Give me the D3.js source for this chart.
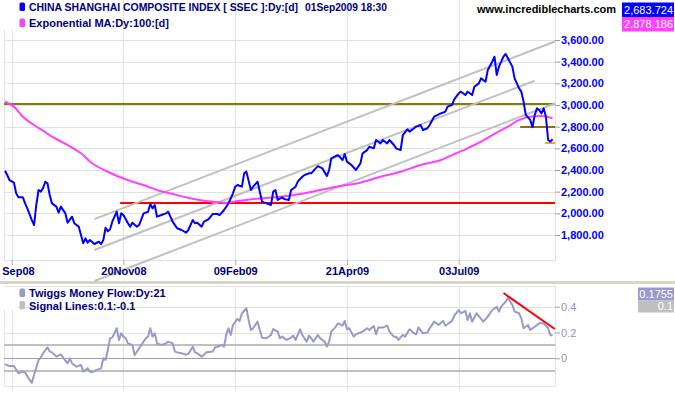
<!DOCTYPE html>
<html>
<head>
<meta charset="utf-8">
<script src="https://cdn.jsdelivr.net/npm/d3@7"></script>
<style>
  body { margin: 0; background: #fff; }
  svg { display: block; }
  text { font-family: "Liberation Sans", Arial, sans-serif; }
</style>
</head>
<body>
<svg id="chart"></svg>
<script>
// ---- data (x = trading day index from late Aug 2008, 245 = 01Sep2009) ----
const priceData = [[0,2393],[1,2354],[2,2307],[4,2283],[5,2185],[6,2148],[8,2148],[9,2092],[10,2046],[12,1938],[13,1892],[14,2077],[15,2215],[16,2200],[17,2231],[18,2292],[19,2277],[20,2169],[21,2092],[23,2062],[24,2006],[25,2062],[27,2000],[28,1913],[30,1969],[31,1908],[33,1877],[34,1800],[35,1723],[36,1769],[37,1729],[38,1754],[40,1717],[42,1738],[43,1717],[44,1754],[45,1867],[46,1836],[47,1851],[48,1923],[50,2015],[51,1908],[52,2000],[53,1985],[55,1908],[56,1877],[57,1913],[59,1877],[60,1892],[62,2000],[64,2015],[65,2086],[66,2046],[67,2077],[68,1969],[70,1985],[72,2000],[73,2015],[75,1923],[77,1862],[79,1846],[81,1821],[82,1846],[84,1938],[85,1908],[86,1913],[88,1877],[89,1923],[91,1944],[93,1994],[95,1994],[96,1984],[98,2031],[100,2092],[102,2185],[103,2246],[104,2262],[106,2246],[107,2369],[108,2385],[110,2215],[111,2246],[113,2292],[114,2200],[115,2107],[117,2092],[119,2077],[120,2200],[121,2215],[122,2123],[124,2148],[125,2131],[127,2123],[128,2215],[130,2246],[131,2292],[133,2338],[134,2354],[136,2369],[137,2369],[139,2415],[140,2436],[142,2415],[144,2344],[145,2400],[146,2508],[148,2529],[149,2538],[151,2492],[152,2547],[153,2477],[155,2446],[157,2400],[159,2461],[160,2554],[162,2584],[163,2615],[165,2600],[166,2677],[168,2646],[169,2677],[171,2646],[172,2677],[174,2631],[175,2600],[177,2584],[178,2723],[180,2775],[181,2754],[183,2785],[184,2800],[186,2815],[187,2769],[189,2785],[190,2815],[192,2892],[195,2923],[197,2938],[198,2985],[200,3000],[201,3052],[203,3108],[204,3123],[206,3092],[207,3123],[209,3092],[210,3169],[212,3200],[213,3246],[215,3215],[216,3323],[218,3400],[219,3446],[220,3277],[221,3354],[223,3446],[224,3471],[225,3431],[227,3354],[228,3246],[230,3154],[231,3123],[232,3031],[233,2908],[235,2862],[236,2794],[237,2908],[238,2969],[239,2954],[240,2923],[241,2969],[242,2892],[243,2677],[244,2662],[245,2684]];

const emaData = [[0,3030],[4,2985],[8,2892],[13,2815],[17,2763],[21,2708],[28,2631],[34,2554],[39,2462],[46,2384],[51,2338],[57,2292],[64,2246],[69,2209],[75,2178],[81,2148],[87,2123],[93,2107],[99,2098],[105,2116],[114,2138],[123,2153],[132,2178],[141,2215],[150,2252],[159,2283],[168,2338],[177,2384],[186,2446],[195,2492],[200,2538],[207,2600],[213,2661],[218,2723],[225,2800],[230,2862],[235,2892],[240,2898],[245,2878]];

const tmfData = [[0,-0.047],[2,-0.06],[4,-0.06],[6,-0.116],[8,-0.103],[9,-0.11],[10,-0.14],[12,-0.19],[13,-0.13],[15,-0.013],[16,0.005],[17,0.039],[19,0.085],[20,0.052],[21,0.046],[23,0.013],[25,0.031],[26,0.005],[28,-0.039],[29,0],[30,-0.039],[32,-0.065],[34,-0.052],[35,-0.103],[37,-0.078],[38,-0.103],[39,-0.108],[41,-0.09],[43,-0.078],[44,0],[45,-0.013],[46,0.064],[47,0.155],[48,0.16],[50,0.233],[51,0.142],[52,0.194],[53,0.168],[54,0.155],[55,0.116],[57,0.103],[58,0.026],[59,0.052],[60,0.077],[62,0.129],[63,0.155],[64,0.168],[65,0.233],[66,0.168],[67,0.194],[68,0.116],[70,0.103],[72,0.116],[73,0.129],[75,0.116],[76,0.052],[77,0.046],[79,0.039],[81,0.028],[82,0.035],[84,0.09],[85,0.046],[86,0.039],[88,0.013],[89,0.026],[90,0.046],[93,0.052],[94,0.085],[95,0.09],[97,0.103],[98,0.09],[99,0.186],[100,0.233],[101,0.181],[102,0.258],[104,0.305],[105,0.29],[106,0.349],[108,0.388],[109,0.297],[110,0.219],[111,0.233],[113,0.284],[114,0.219],[115,0.16],[117,0.155],[119,0.181],[120,0.227],[122,0.207],[123,0.155],[124,0.168],[126,0.142],[128,0.16],[129,0.176],[130,0.142],[131,0.181],[132,0.225],[133,0.181],[135,0.129],[136,0.176],[137,0.155],[138,0.129],[140,0.181],[141,0.155],[143,0.129],[144,0.09],[145,0.129],[146,0.207],[148,0.245],[149,0.271],[151,0.253],[152,0.29],[153,0.225],[154,0.233],[156,0.168],[157,0.186],[159,0.2],[160,0.207],[162,0.233],[163,0.219],[165,0.25],[166,0.186],[167,0.238],[169,0.238],[171,0.253],[172,0.207],[174,0.168],[175,0.168],[176,0.142],[178,0.181],[179,0.168],[181,0.225],[183,0.194],[184,0.186],[185,0.24],[187,0.194],[189,0.2],[190,0.233],[192,0.284],[194,0.258],[196,0.29],[197,0.253],[198,0.264],[200,0.29],[201,0.33],[203,0.374],[204,0.349],[206,0.367],[207,0.297],[208,0.349],[209,0.284],[211,0.349],[213,0.305],[214,0.284],[216,0.323],[217,0.349],[218,0.374],[220,0.4],[221,0.362],[222,0.4],[224,0.439],[225,0.47],[227,0.413],[228,0.362],[230,0.349],[231,0.31],[232,0.233],[234,0.258],[235,0.219],[237,0.245],[239,0.271],[241,0.271],[243,0.233],[244,0.181],[245,0.1755]];

// trend channel (gray) and horizontal support/resistance lines
const channelLines = [
  [[40, 1947], [246, 3586]],
  [[40, 1661], [237, 3224]],
  [[40, 1375], [246, 3014]]
];
const levelLines = [
  { from: -0.45, to: 246.1, value: 3010, color: "#808000" },
  { from: 51.5,  to: 246.1, value: 2098, color: "#ff0000" },
  { from: 230.5, to: 246.1, value: 2800, color: "#9c6a00" },
  { from: 241.6, to: 246.1, value: 2650, color: "#ffa020" }
];
const tmfTrend = [[223, 0.506], [246, 0.227]];
const signalLevels = [0.1, -0.1];

const dateTicks = [3, 53, 103, 153, 203];
const dateLabels = ["Sep08", "20Nov08", "09Feb09", "21Apr09", "03Jul09"];
const priceTicks = [1800, 2000, 2200, 2400, 2600, 2800, 3000, 3200, 3400, 3600];
const tmfTicks = [0, 0.2, 0.4];

const lastPrice = "2,683.724", lastEma = "2,878.186";
const lastTmf = "0.1755", lastSignal = "0.1";

// ---- layout ----
const width = 675, height = 395;
const plotL = 4, plotR = 555;
const mainBottom = 260, lowTop = 286, lowBottom = 386;
const gridColor = "#e2e2e2";

const svg = d3.select("#chart").attr("width", width).attr("height", height);

const x = d3.scaleLinear().domain([0, 245]).range([5, 552.6]);
const y = d3.scaleLinear().domain([1800, 3600]).range([235, 40]);
const y2 = d3.scaleLinear().domain([0, 0.4]).range([358.3, 306.7]);

// grid - main panel
svg.append("g").selectAll("line").data(priceTicks).enter().append("line")
  .attr("x1", plotL).attr("x2", plotR)
  .attr("y1", d => Math.round(y(d)) + 0.5).attr("y2", d => Math.round(y(d)) + 0.5)
  .attr("stroke", gridColor);
svg.append("g").selectAll("line").data(dateTicks).enter().append("line")
  .attr("x1", d => Math.round(x(d)) + 0.5).attr("x2", d => Math.round(x(d)) + 0.5)
  .attr("y1", 0).attr("y2", mainBottom)
  .attr("stroke", gridColor);

// grid - lower panel
svg.append("g").selectAll("line").data([0.2, 0.4]).enter().append("line")
  .attr("x1", plotL).attr("x2", plotR)
  .attr("y1", d => Math.round(y2(d)) + 0.5).attr("y2", d => Math.round(y2(d)) + 0.5)
  .attr("stroke", gridColor);
svg.append("g").selectAll("line").data(dateTicks).enter().append("line")
  .attr("x1", d => Math.round(x(d)) + 0.5).attr("x2", d => Math.round(x(d)) + 0.5)
  .attr("y1", lowTop).attr("y2", lowBottom + 4)
  .attr("stroke", gridColor);

// frames
const frame = svg.append("g").attr("stroke", gridColor).attr("fill", "none");
frame.append("path").attr("d", `M${plotL + 0.5},0V${mainBottom + 0.5}H${plotR + 0.5}V0`);
frame.append("path").attr("d", `M${plotL + 0.5},${lowTop + 0.5}V${lowBottom + 0.5}H${plotR + 0.5}V${lowTop + 0.5}Z`);

// legend backdrop at far left (covers the first grid lines like the original)
svg.append("rect").attr("x", 0).attr("y", 0).attr("width", 17).attr("height", 30).attr("fill", "#fff");
svg.append("rect").attr("x", 0).attr("y", lowTop + 1).attr("width", 17).attr("height", 23).attr("fill", "#fff");

// panel divider
svg.append("rect").attr("x", 0).attr("y", 281).attr("width", width).attr("height", 3).attr("fill", "#d8d4c6");

// horizontal levels
svg.append("g").selectAll("line").data(levelLines).enter().append("line")
  .attr("x1", d => x(d.from)).attr("x2", d => x(d.to))
  .attr("y1", d => Math.round(y(d.value))).attr("y2", d => Math.round(y(d.value)))
  .attr("stroke", d => d.color).attr("stroke-width", 2);

// channel
const line = d3.line().x(d => x(d[0])).y(d => y(d[1]));
svg.append("g").selectAll("path").data(channelLines).enter().append("path")
  .attr("d", line).attr("fill", "none").attr("stroke", "#c0c0c0").attr("stroke-width", 2);

// EMA
svg.append("path").datum(emaData)
  .attr("d", d3.line().x(d => x(d[0])).y(d => y(d[1])).curve(d3.curveMonotoneX))
  .attr("fill", "none").attr("stroke", "#ff40ff").attr("stroke-width", 2);

// price
svg.append("path").datum(priceData)
  .attr("d", line).attr("fill", "none").attr("stroke", "#0000ff").attr("stroke-width", 2)
  .attr("stroke-linejoin", "round");

// lower panel lines
svg.append("g").selectAll("line").data(signalLevels).enter().append("line")
  .attr("x1", plotL).attr("x2", plotR)
  .attr("y1", d => Math.round(y2(d))).attr("y2", d => Math.round(y2(d)))
  .attr("stroke", "#c0c0c0").attr("stroke-width", 2);
svg.append("line").attr("x1", plotL).attr("x2", plotR)
  .attr("y1", Math.round(y2(0)) + 0.5).attr("y2", Math.round(y2(0)) + 0.5)
  .attr("stroke", "#9999cc");

const line2 = d3.line().x(d => x(d[0])).y(d => y2(d[1]));
svg.append("path").datum(tmfData)
  .attr("d", line2).attr("fill", "none").attr("stroke", "#9999cc").attr("stroke-width", 2)
  .attr("stroke-linejoin", "round");
svg.append("path").datum(tmfTrend)
  .attr("d", line2).attr("fill", "none").attr("stroke", "#ff0000").attr("stroke-width", 2);

// axes
const yAxis = svg.append("g").attr("transform", `translate(${plotR},0)`)
  .call(d3.axisRight(y).tickValues(priceTicks).tickFormat(d3.format(",.2f")).tickSize(5).tickPadding(1));
yAxis.select(".domain").remove();
yAxis.selectAll("line").attr("stroke", "#9a9ac0");
yAxis.selectAll("text").attr("fill", "#0000ff").attr("font-weight", "bold").attr("font-size", 11);

const y2Axis = svg.append("g").attr("transform", `translate(${plotR},0)`)
  .call(d3.axisRight(y2).tickValues(tmfTicks).tickFormat(d => d === 0 ? "0" : d3.format(".1f")(d)).tickSize(5).tickPadding(1));
y2Axis.select(".domain").remove();
y2Axis.selectAll("line").attr("stroke", "#9999cc");
y2Axis.selectAll("text").attr("fill", "#8f8fc8").attr("font-size", 11);

const xAxis = svg.append("g").attr("transform", `translate(0,${mainBottom})`)
  .call(d3.axisBottom(x).tickValues(dateTicks).tickFormat((d, i) => dateLabels[i]).tickSize(5).tickPadding(2));
xAxis.select(".domain").remove();
xAxis.selectAll("line").attr("stroke", "#b0b0b0");
xAxis.selectAll("text").attr("fill", "#000080").attr("font-weight", "bold").attr("font-size", 11);
xAxis.selectAll("text").filter((d, i) => i === 0).attr("text-anchor", "start").attr("x", -10);

// legends
function legend(yTop, color, label, fit) {
  svg.append("rect").attr("x", 19.5).attr("y", yTop).attr("width", 5.5).attr("height", 8.5)
    .attr("rx", 1.5).attr("fill", color);
  const t = svg.append("text").attr("x", 29).attr("y", yTop + 8.5).attr("font-size", 11)
    .attr("font-weight", "bold").attr("fill", "#000080").text(label);
  if (fit) t.attr("textLength", fit).attr("lengthAdjust", "spacingAndGlyphs");
}
legend(2.5, "#0000ff", "CHINA SHANGHAI COMPOSITE INDEX [ SSEC ]:Dy:[d]", 269);
svg.append("text").attr("x", 305).attr("y", 11).attr("font-size", 11).attr("font-weight", "bold")
  .attr("fill", "#000080").attr("textLength", 82).attr("lengthAdjust", "spacingAndGlyphs")
  .text("01Sep2009 18:30");
legend(18.5, "#ff40ff", "Exponential MA:Dy:100:[d]");
legend(288.5, "#9999cc", "Twiggs Money Flow:Dy:21");
legend(301, "#c0c0c0", "Signal Lines:0.1:-0.1");

svg.append("text").attr("x", 616).attr("y", 13).attr("text-anchor", "end")
  .attr("font-size", 11).attr("font-weight", "bold").attr("fill", "#000").text("www.incrediblecharts.com");

// value boxes
function valueBox(yTop, h, x0, color, label) {
  svg.append("rect").attr("x", x0).attr("y", yTop).attr("width", 674 - x0).attr("height", h).attr("fill", color);
  svg.append("text").attr("x", 673).attr("y", yTop + h / 2).attr("dy", "0.36em").attr("text-anchor", "end")
    .attr("font-size", 11).attr("fill", "#fff").text(label);
}
valueBox(2.5, 14.5, 622, "#0000ff", lastPrice);
valueBox(17, 14.5, 622, "#ff40ff", lastEma);
valueBox(287.5, 13, 638, "#9999cc", lastTmf);
valueBox(300.5, 12, 638, "#c0c0c0", lastSignal);
</script>
</body>
</html>
